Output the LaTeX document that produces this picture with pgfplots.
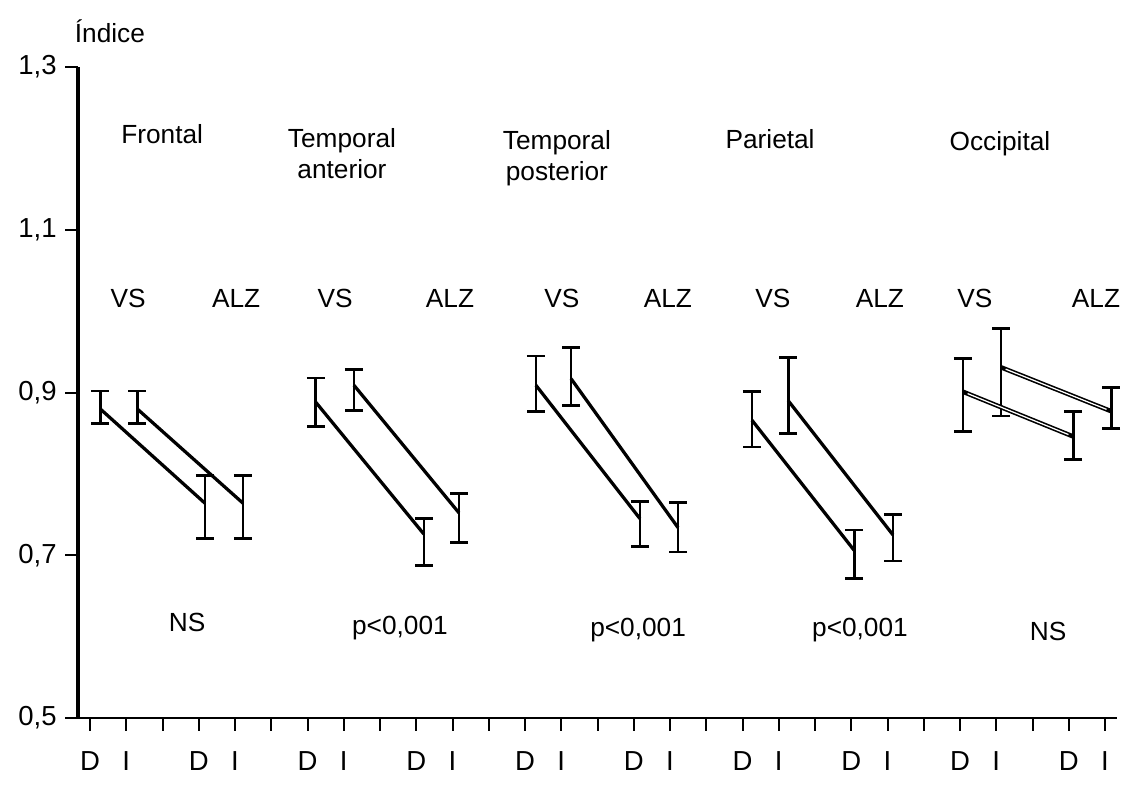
\documentclass[border=0pt]{standalone}
\usepackage{fontspec}
\setmainfont{Liberation Sans}
\usepackage{pgfplots}
\usepackage{pgfplotstable}
\pgfplotsset{compat=1.18}
\tikzset{lbl/.style={font=\fontsize{10.5}{12.5}\selectfont, align=center}}

% x: position on the D/I tick scale, y: mean index, ep/em: error up/down
\pgfplotstableread{
x y ep em
0.28 0.880 0.022 0.018
3.17 0.764 0.034 0.043
}\frD
\pgfplotstableread{
x y ep em
1.30 0.880 0.022 0.018
4.22 0.764 0.034 0.043
}\frI
\pgfplotstableread{
x y ep em
6.23 0.888 0.030 0.030
9.21 0.726 0.019 0.039
}\taD
\pgfplotstableread{
x y ep em
7.28 0.909 0.019 0.031
10.18 0.752 0.024 0.036
}\taI
\pgfplotstableread{
x y ep em
12.30 0.909 0.036 0.032
15.17 0.745 0.021 0.034
}\tpD
\pgfplotstableread{
x y ep em
13.27 0.917 0.038 0.033
16.22 0.734 0.031 0.030
}\tpI
\pgfplotstableread{
x y ep em
18.26 0.866 0.035 0.033
21.08 0.706 0.025 0.035
}\paD
\pgfplotstableread{
x y ep em
19.26 0.890 0.053 0.040
22.15 0.725 0.025 0.032
}\paI
\pgfplotstableread{
x y ep em
24.08 0.901 0.041 0.049
27.12 0.846 0.031 0.028
}\ocD
\pgfplotstableread{
x y ep em
25.13 0.931 0.048 0.060
28.17 0.877 0.029 0.021
}\ocI

\begin{document}
\begin{tikzpicture}
\useasboundingbox (-31.2pt,-27.2pt) rectangle (421.6pt,287.2pt);
\begin{axis}[
    at={(0,0)}, anchor=south west,
    scale only axis,
    width=415.6pt, height=260.4pt,
    xmin=-0.331, xmax=28.33,
    ymin=0.5, ymax=1.3,
    axis lines=left,
    axis line style={-},
    x axis line style={line width=0.9pt},
    y axis line style={line width=1.6pt},
    clip=false,
    tick align=outside,
    xtick={0,...,28},
    xticklabels={D,I,,D,I,,D,I,,D,I,,D,I,,D,I,,D,I,,D,I,,D,I,,D,I},
    xticklabel style={yshift=-5pt},
    x tick style={line width=0.8pt, black},
    y tick style={line width=0.8pt, black},
    major tick length=5pt,
    ytick={0.5,0.7,0.9,1.1,1.3},
    yticklabels={{0,5},{0,7},{0,9},{1,1},{1,3}},
    tick label style={font=\fontsize{11}{13}\selectfont},
    cycle list={{black, solid, mark=none}},
    every axis plot/.append style={line width=1.3pt},
    error bars/y dir=both,
    error bars/y explicit,
    error bars/error bar style={line width=1.1pt, solid, black},
    error bars/error mark options={rotate=90, mark size=3.6pt, line width=1.1pt, black},
]
\addplot table[x=x, y=y, y error plus=ep, y error minus=em]{\frD};
\addplot table[x=x, y=y, y error plus=ep, y error minus=em]{\frI};
\addplot table[x=x, y=y, y error plus=ep, y error minus=em]{\taD};
\addplot table[x=x, y=y, y error plus=ep, y error minus=em]{\taI};
\addplot table[x=x, y=y, y error plus=ep, y error minus=em]{\tpD};
\addplot table[x=x, y=y, y error plus=ep, y error minus=em]{\tpI};
\addplot table[x=x, y=y, y error plus=ep, y error minus=em]{\paD};
\addplot table[x=x, y=y, y error plus=ep, y error minus=em]{\paI};
\addplot[line width=1.8pt] table[x=x, y=y, y error plus=ep, y error minus=em]{\ocD};
\addplot[line width=1.8pt] table[x=x, y=y, y error plus=ep, y error minus=em]{\ocI};
% hollow centre of the occipital lines
\addplot[white, line width=0.5pt, shorten >=2pt, shorten <=2pt] table[x=x, y=y]{\ocD};
\addplot[white, line width=0.5pt, shorten >=2pt, shorten <=2pt] table[x=x, y=y]{\ocI};

\node[lbl] at (axis cs:0.55,1.344) {Índice};

\node[lbl] at (axis cs:1.99,1.218) {Frontal};
\node[lbl] at (axis cs:6.95,1.194) {Temporal\\anterior};
\node[lbl] at (axis cs:12.88,1.188) {Temporal\\posterior};
\node[lbl] at (axis cs:18.76,1.212) {Parietal};
\node[lbl] at (axis cs:25.1,1.206) {Occipital};

\node[lbl] at (axis cs:1.05,1.015) {VS};
\node[lbl] at (axis cs:4.03,1.015) {ALZ};
\node[lbl] at (axis cs:6.76,1.015) {VS};
\node[lbl] at (axis cs:9.93,1.015) {ALZ};
\node[lbl] at (axis cs:13.02,1.015) {VS};
\node[lbl] at (axis cs:15.94,1.015) {ALZ};
\node[lbl] at (axis cs:18.84,1.015) {VS};
\node[lbl] at (axis cs:21.79,1.015) {ALZ};
\node[lbl] at (axis cs:24.41,1.015) {VS};
\node[lbl] at (axis cs:27.75,1.015) {ALZ};

\node[lbl] at (axis cs:2.68,0.618) {NS};
\node[lbl] at (axis cs:8.55,0.610) {p<0,001};
\node[lbl] at (axis cs:15.12,0.608) {p<0,001};
\node[lbl] at (axis cs:21.24,0.608) {p<0,001};
\node[lbl] at (axis cs:26.43,0.606) {NS};
\end{axis}
\end{tikzpicture}
\end{document}
